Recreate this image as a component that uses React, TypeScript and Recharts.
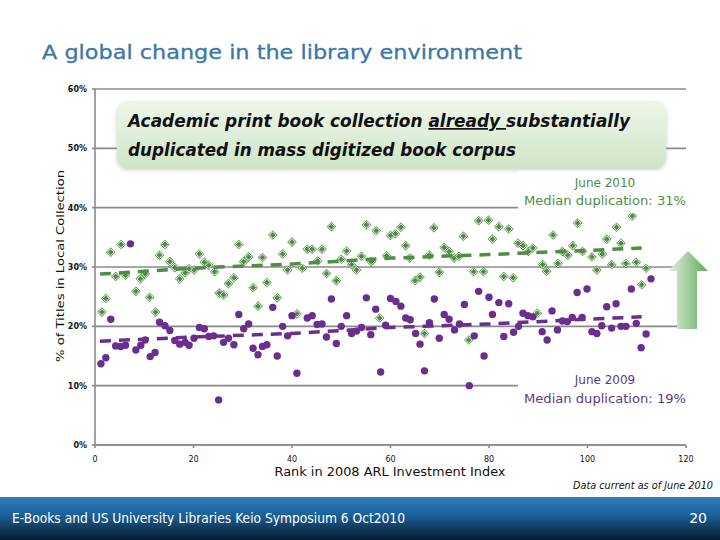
import { ScatterChart, Scatter, XAxis, YAxis, CartesianGrid } from 'recharts'

// rank in ARL index vs. % duplicated
const june2010: [number, number][] = [
  [1.4, 22.4], [2.2, 24.7], [3.2, 32.5], [4.2, 28.4], [5.3, 33.8], [6.2, 28.6], [8.3, 25.9], [9.2, 28.0],
  [10.2, 28.8], [11.1, 24.9], [12.3, 22.4], [13.1, 32.0], [14.2, 33.8], [15.2, 30.9], [16.2, 29.9], [17.2, 28.0],
  [18.3, 29.0], [19.1, 29.7], [20.1, 29.5], [21.2, 32.2], [22.2, 30.8], [23.1, 30.3], [24.3, 29.2], [25.2, 25.6],
  [26.1, 25.3], [27.1, 27.2], [28.2, 28.2], [29.2, 33.8], [30.2, 30.9], [31.2, 31.7], [32.1, 26.5], [33.1, 23.4],
  [34.0, 31.6], [34.9, 27.4], [36.1, 35.4], [37.0, 24.8], [38.1, 32.2], [39.1, 29.5], [40.0, 34.2], [41.0, 22.1],
  [42.1, 29.8], [43.1, 33.0], [44.1, 33.0], [45.2, 31.0], [46.1, 33.0], [47.0, 28.9], [48.0, 36.8], [49.0, 27.7],
  [50.0, 31.3], [51.1, 32.7], [52.1, 30.4], [53.1, 29.5], [54.1, 31.8], [55.1, 37.1], [56.1, 30.9], [57.1, 36.1],
  [57.8, 21.4], [59.2, 31.9], [60.0, 35.3], [61.0, 35.6], [62.1, 36.7], [63.1, 33.6], [63.9, 31.5], [65.0, 27.7],
  [66.0, 28.3], [66.9, 18.8], [67.9, 32.0], [68.8, 36.6], [69.9, 29.1], [70.9, 33.3], [71.9, 32.6], [72.9, 31.5],
  [73.9, 31.8], [74.8, 35.2], [75.9, 17.7], [76.9, 29.2], [77.9, 37.8], [78.9, 29.2], [79.9, 37.9], [80.7, 34.7],
  [82.0, 36.8], [83.0, 28.4], [84.0, 36.4], [84.9, 28.2], [85.9, 34.0], [86.9, 33.6], [88.0, 32.6], [88.9, 33.2],
  [89.8, 22.2], [90.9, 30.4], [91.7, 29.3], [93.0, 35.4], [94.0, 30.6], [94.9, 32.6], [96.0, 32.0], [97.0, 33.6],
  [98.0, 37.4], [99.0, 32.6], [100.9, 31.7], [101.9, 29.5], [103.0, 32.2], [103.9, 34.7], [104.9, 30.4],
  [105.9, 36.7], [106.8, 34.0], [107.8, 30.6], [109.1, 38.6], [109.9, 30.8], [111.0, 27.0], [111.9, 29.8],
]

const june2009: [number, number][] = [
  [1.2, 13.7], [2.2, 14.7], [3.2, 21.2], [4.2, 16.7], [5.2, 16.6], [6.2, 16.8], [7.2, 33.9], [8.3, 16.0],
  [9.3, 16.8], [10.2, 17.7], [11.2, 14.9], [12.2, 15.6], [13.1, 20.7], [14.2, 20.1], [15.2, 19.3], [16.2, 17.6],
  [17.2, 17.0], [18.3, 17.3], [19.1, 16.8], [20.1, 18.0], [21.2, 19.8], [22.2, 19.6], [23.1, 18.3], [24.1, 18.4],
  [25.1, 7.6], [26.1, 17.3], [27.1, 18.0], [28.2, 16.9], [29.2, 22.0], [30.2, 19.6], [31.2, 20.4], [32.1, 16.3],
  [33.1, 15.2], [34.0, 16.6], [34.9, 16.9], [36.1, 23.2], [37.0, 15.0], [38.1, 20.0], [39.1, 18.4], [40.0, 21.8],
  [41.0, 12.1], [43.1, 21.4], [44.1, 21.8], [45.1, 20.3], [46.1, 20.4], [47.0, 18.2], [48.0, 24.6], [49.0, 17.1],
  [50.0, 20.0], [51.1, 21.8], [52.1, 18.8], [53.1, 19.2], [54.1, 19.8], [55.1, 24.8], [56.0, 18.6], [57.0, 22.9],
  [58.0, 12.3], [59.0, 20.2], [60.0, 24.7], [61.1, 24.2], [62.1, 23.4], [63.1, 21.4], [64.0, 21.1], [65.1, 18.8],
  [66.0, 17.0], [66.9, 12.5], [67.9, 20.6], [68.9, 24.6], [69.9, 18.0], [70.9, 22.0], [71.9, 21.2], [73.0, 19.4],
  [74.0, 20.4], [75.0, 23.7], [76.0, 10.0], [77.0, 18.4], [77.9, 25.9], [79.0, 15.0], [80.0, 24.9], [80.7, 22.0],
  [82.0, 24.0], [83.0, 18.3], [84.0, 23.8], [85.0, 19.0], [86.0, 20.0], [86.9, 22.2], [87.9, 21.8], [88.9, 21.6],
  [90.8, 19.1], [91.8, 17.7], [92.8, 22.6], [93.9, 19.4], [94.9, 20.9], [95.9, 20.8], [96.9, 21.5], [97.9, 25.7],
  [98.9, 21.5], [99.9, 26.3], [100.9, 19.1], [101.9, 18.8], [102.9, 20.1], [103.9, 23.3], [104.9, 19.7],
  [105.8, 23.8], [106.8, 20.0], [107.8, 20.0], [108.9, 26.3], [109.9, 20.5], [110.9, 16.4], [111.9, 18.7],
  [112.9, 28.0],
]

// dashed trend lines
const trend2010: [number, number][] = [[1, 28.8], [20, 29.8], [40, 30.5], [60, 31.5], [80, 32.1], [100, 32.8], [111, 33.2]]
const trend2009: [number, number][] = [[1, 17.5], [20, 18.2], [40, 18.8], [60, 19.8], [80, 20.4], [100, 21.2], [111, 21.6]]

const xTicks = [0, 20, 40, 60, 80, 100, 120]
const yTicks = [0, 10, 20, 30, 40, 50, 60]

const GREEN = '#4F8E42'
const PURPLE = '#6A2F8E'
const FONT = '"DejaVu Sans", Verdana, sans-serif'

const toPoints = (rows: [number, number][]) => rows.map(([x, y]) => ({ x, y }))

const Diamond = (props: any) => {
  const { cx, cy } = props
  if (cx == null || cy == null) return <g />
  const d = (r: number) => `${cx},${cy - r} ${cx + r},${cy} ${cx},${cy + r} ${cx - r},${cy}`
  return (
    <g>
      <polygon points={d(4.8)} fill={GREEN} />
      <polygon points={d(3.4)} fill="none" stroke="#ffffff" strokeWidth={0.9} />
    </g>
  )
}

const Dot = (props: any) => {
  const { cx, cy } = props
  if (cx == null || cy == null) return <g />
  return <circle cx={cx} cy={cy} r={3.7} fill={PURPLE} />
}

const YTick = (props: any) => {
  const { x, y, payload } = props
  return (
    <text x={x - 3} y={y + 3} textAnchor="end" fontSize={8} fontWeight="bold" fontFamily={FONT} fill="#111">
      {payload.value}%
    </text>
  )
}

const XTick = (props: any) => {
  const { x, y, payload } = props
  return (
    <text x={x} y={y + 12} textAnchor="middle" fontSize={8} fontFamily={FONT} fill="#111">
      {payload.value}
    </text>
  )
}

const Overlay = () => (
  <svg width={720} height={540} style={{ position: 'absolute', left: 0, top: 0, pointerEvents: 'none' }}>
    <defs>
      <linearGradient id="boxFill" x1="0" y1="0" x2="0" y2="1">
        <stop offset="0%" stopColor="#eef6ea" />
        <stop offset="100%" stopColor="#cfe5c7" />
      </linearGradient>
      <linearGradient id="arrowFill" x1="0" y1="0" x2="1" y2="0">
        <stop offset="0%" stopColor="#e4f2df" />
        <stop offset="100%" stopColor="#5faa5c" />
      </linearGradient>
      <linearGradient id="barFill" x1="0" y1="0" x2="0" y2="1">
        <stop offset="0%" stopColor="#2d7fbf" />
        <stop offset="45%" stopColor="#1b5d93" />
        <stop offset="100%" stopColor="#07182c" />
      </linearGradient>
      <filter id="soft" x="-5%" y="-20%" width="110%" height="150%">
        <feDropShadow dx="0" dy="2" stdDeviation="2" floodColor="#9fb69a" floodOpacity="0.6" />
      </filter>
    </defs>

    <text x={42} y={59} fontSize={20} fontFamily={FONT} fill="#3B78A6" stroke="#3B78A6" strokeWidth={0.3}
      textLength={480} lengthAdjust="spacingAndGlyphs">
      A global change in the library environment
    </text>

    <rect x={117} y={101} width={549} height={67} rx={11} fill="url(#boxFill)" filter="url(#soft)" />
    <text x={128} y={127} fontSize={17} fontStyle="italic" fontWeight="bold" fontFamily={FONT} fill="#111"
      textLength={502} lengthAdjust="spacingAndGlyphs">
      Academic print book collection <tspan textDecoration="underline">already </tspan>substantially
    </text>
    <text x={128} y={156} fontSize={17} fontStyle="italic" fontWeight="bold" fontFamily={FONT} fill="#111"
      textLength={388} lengthAdjust="spacingAndGlyphs">
      duplicated in mass digitized book corpus
    </text>

    <rect x={518} y={171} width={172} height={42} fill="#ffffff" />
    <text x={605} y={187} textAnchor="middle" fontSize={12} fontFamily={FONT} fill={GREEN}>June 2010</text>
    <text x={605} y={205} textAnchor="middle" fontSize={12} fontFamily={FONT} fill={GREEN}
      textLength={162} lengthAdjust="spacingAndGlyphs">Median duplication: 31%</text>

    <rect x={518} y={367} width={172} height={42} fill="#ffffff" />
    <text x={605} y={384} textAnchor="middle" fontSize={12} fontFamily={FONT} fill="#5E3A80">June 2009</text>
    <text x={605} y={403} textAnchor="middle" fontSize={12} fontFamily={FONT} fill="#5E3A80"
      textLength={162} lengthAdjust="spacingAndGlyphs">Median duplication: 19%</text>

    <polygon points="688,251 708,271 697,271 697,329 677,329 677,271 668,271" fill="url(#arrowFill)" />

    <text x={390} y={476} textAnchor="middle" fontSize={12} fontFamily={FONT} fill="#111"
      textLength={231} lengthAdjust="spacingAndGlyphs">Rank in 2008 ARL Investment Index</text>
    <text transform="translate(64,266) rotate(-90)" textAnchor="middle" fontSize={10.5} fontFamily={FONT} fill="#111"
      textLength={192} lengthAdjust="spacingAndGlyphs">% of Titles in Local Collection</text>

    <text x={713} y={489} textAnchor="end" fontSize={10} fontStyle="italic" fontFamily={FONT} fill="#111"
      textLength={140} lengthAdjust="spacingAndGlyphs">Data current as of June 2010</text>

    <rect x={0} y={497} width={720} height={43} fill="url(#barFill)" />
    <text x={12} y={523} fontSize={14} fontFamily={FONT} fill="#ffffff" textLength={393} lengthAdjust="spacingAndGlyphs">
      E-Books and US University Libraries Keio Symposium 6 Oct2010
    </text>
    <text x={707} y={523} textAnchor="end" fontSize={14} fontFamily={FONT} fill="#ffffff">20</text>
  </svg>
)

export default function App() {
  return (
    <div style={{ position: 'absolute', left: 0, top: 0, width: 720, height: 540, background: '#fff', overflow: 'hidden' }}>
      <ScatterChart width={720} height={540} margin={{ top: 89, right: 34, bottom: 75, left: 65 }}>
        <CartesianGrid vertical={false} stroke="#8a8a8a" strokeWidth={1.6} />
        <XAxis
          type="number"
          dataKey="x"
          domain={[0, 120]}
          ticks={xTicks}
          height={20}
          stroke="#8a8a8a"
          strokeWidth={1.6}
          tickSize={3}
          tick={<XTick />}
        />
        <YAxis
          type="number"
          dataKey="y"
          domain={[0, 60]}
          ticks={yTicks}
          width={30}
          stroke="#8a8a8a"
          strokeWidth={1.6}
          tickSize={3}
          tick={<YTick />}
        />
        <Scatter data={toPoints(june2010)} shape={<Diamond />} isAnimationActive={false} />
        <Scatter data={toPoints(june2009)} shape={<Dot />} isAnimationActive={false} />
        <Scatter
          data={toPoints(trend2010)}
          line={{ stroke: GREEN, strokeWidth: 3.5, strokeDasharray: '11 8' }}
          shape={() => <g />}
          isAnimationActive={false}
        />
        <Scatter
          data={toPoints(trend2009)}
          line={{ stroke: PURPLE, strokeWidth: 3.5, strokeDasharray: '11 8' }}
          shape={() => <g />}
          isAnimationActive={false}
        />
      </ScatterChart>
      <Overlay />
    </div>
  )
}
